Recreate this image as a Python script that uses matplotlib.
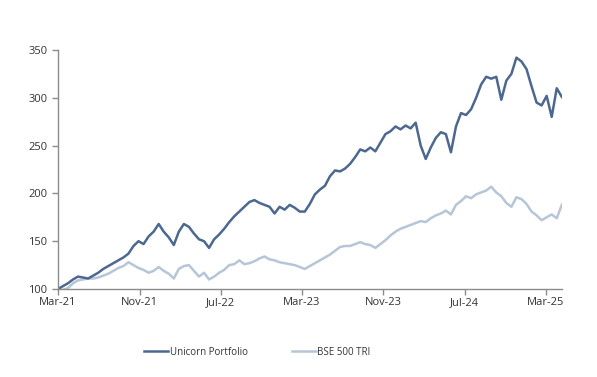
import pandas as pd
import matplotlib.pyplot as plt
import matplotlib.dates as mdates

# values, roughly every two weeks from Mar-21
unicorn = [
    100, 103, 106, 110, 113, 112, 111, 114, 117, 121,
    124, 127, 130, 133, 137, 145, 150, 147, 155, 160,
    168, 160, 154, 146, 160, 168, 165, 158, 152, 150,
    143, 152, 157, 163, 170, 176, 181, 186, 191, 193,
    190, 188, 186, 179, 186, 183, 188, 185, 181, 181,
    189, 199, 204, 208, 218, 224, 223, 226, 231, 238,
    246, 244, 248, 244, 253, 262, 265, 270, 267, 271,
    268, 274, 250, 236, 248, 258, 264, 262, 243, 270,
    284, 282, 288, 300, 314, 322, 320, 322, 298, 318,
    325, 342, 338, 330, 312, 295, 292, 302, 280, 310,
    301,
]
bse500 = [
    100, 99, 101, 106, 109, 110, 111, 111, 112, 114,
    116, 119, 122, 124, 128, 125, 122, 120, 117, 119,
    123, 119, 116, 111, 121, 124, 125, 119, 113, 117,
    110, 113, 117, 120, 125, 126, 130, 126, 127, 129,
    132, 134, 131, 130, 128, 127, 126, 125, 123, 121,
    124, 127, 130, 133, 136, 140, 144, 145, 145, 147,
    149, 147, 146, 143, 147, 151, 156, 160, 163, 165,
    167, 169, 171, 170, 174, 177, 179, 182, 178, 188,
    192, 197, 195, 199, 201, 203, 207, 201, 197, 190,
    186, 196, 194, 189, 181, 177, 172, 175, 178, 174,
    188,
]
dates = pd.date_range("2021-03-01", "2025-04-18", periods=len(unicorn))
tick_dates = pd.to_datetime(["2021-03-01", "2021-11-01", "2022-07-01", "2023-03-01",
                             "2023-11-01", "2024-07-01", "2025-03-01"])
tick_labels = ["Mar-21", "Nov-21", "Jul-22", "Mar-23", "Nov-23", "Jul-24", "Mar-25"]
y_ticks = [100, 150, 200, 250, 300, 350]

plt.rcParams['font.family'] = ['Open Sans', 'DejaVu Sans']
text_col = "#333333"
axis_col = "#8c8c8c"

fig = plt.figure(figsize=(5.97, 3.77), dpi=100)
ax = fig.add_axes([0.097, 0.2334, 0.844, 0.634])

ax.plot(dates, bse500, color="#b7c5d9", lw=1.8, label="BSE 500 TRI")
ax.plot(dates, unicorn, color="#4d6890", lw=1.8, label="Unicorn Portfolio")

ax.set_xlim(dates[0], dates[-1])
ax.set_ylim(100, 350)
ax.set_xticks(tick_dates)
ax.set_xticklabels(tick_labels)
ax.set_yticks(y_ticks)

for s in ["top", "right"]:
    ax.spines[s].set_visible(False)
for s in ["left", "bottom"]:
    ax.spines[s].set_color(axis_col)
    ax.spines[s].set_linewidth(1)
ax.tick_params(axis="both", colors=axis_col, labelcolor=text_col, labelsize=8,
               length=4, width=1)
ax.tick_params(axis="x", pad=2)

handles, labels = ax.get_legend_handles_labels()
fig.legend(handles[::-1], labels[::-1], loc="center", bbox_to_anchor=(0.431, 0.066),
           ncol=2, frameon=False, fontsize=7, handlelength=2.5, handletextpad=0.15,
           columnspacing=4.5, labelcolor=text_col)

fig.savefig("out.png", dpi=100)
